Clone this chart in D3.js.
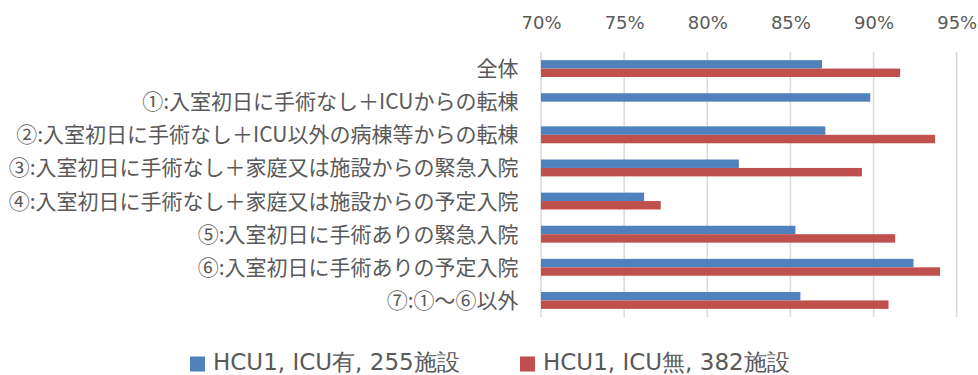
<!DOCTYPE html>
<html>
<head>
<meta charset="utf-8">
<script src="https://cdn.jsdelivr.net/npm/d3@7"></script>
<style>
  html, body { margin: 0; padding: 0; background: #fff; }
  svg { display: block; }
</style>
</head>
<body>
<svg id="chart" width="978" height="375"></svg>
<script>
// Categories (top to bottom)
const categories = [
  "全体",
  "①:入室初日に手術なし＋ICUからの転棟",
  "②:入室初日に手術なし＋ICU以外の病棟等からの転棟",
  "③:入室初日に手術なし＋家庭又は施設からの緊急入院",
  "④:入室初日に手術なし＋家庭又は施設からの予定入院",
  "⑤:入室初日に手術ありの緊急入院",
  "⑥:入室初日に手術ありの予定入院",
  "⑦:①～⑥以外"
];

// Series names
const seriesNames = ["HCU1, ICU有, 255施設", "HCU1, ICU無, 382施設"];

// Series values (ratio); null = no bar
const withICU    = [0.869, 0.898, 0.871, 0.819, 0.762, 0.853, 0.924, 0.856];
const withoutICU = [0.916, null,  0.937, 0.893, 0.772, 0.913, 0.940, 0.909];

// Axis ticks
const tickValues = [0.70, 0.75, 0.80, 0.85, 0.90, 0.95];

const colors = ["#4F81BD", "#C0504D"];
const textColor = "#595959";

const svg = d3.select("#chart");

const x = d3.scaleLinear().domain([0.70, 0.95]).range([541, 956.7]);
const y = d3.scaleBand().domain(categories).range([52, 317])
  .paddingInner(0.49).paddingOuter(0.245);
const sub = d3.scaleBand().domain([0, 1]).range([0, y.bandwidth()]);

// Vertical gridlines
svg.append("g").selectAll("line").data(tickValues).join("line")
  .attr("x1", d => x(d)).attr("x2", d => x(d))
  .attr("y1", 52).attr("y2", 317)
  .attr("stroke", "#d9d9d9").attr("stroke-width", 1.5);

// Top axis labels
const axis = d3.axisTop(x).tickValues(tickValues)
  .tickFormat(d3.format(".0%")).tickSize(0).tickPadding(0);
const ag = svg.append("g").attr("transform", "translate(0,28.5)").call(axis);
ag.select(".domain").remove();
ag.selectAll("text")
  .attr("fill", textColor)
  .style("font-family", "'DejaVu Sans', Verdana, sans-serif")
  .style("font-size", "18px");

// Bars
const series = [withICU, withoutICU];
series.forEach((vals, si) => {
  svg.append("g").selectAll("rect")
    .data(categories.map((c, i) => ({ c, v: vals[i] })).filter(d => d.v != null))
    .join("rect")
    .attr("x", x(0.70))
    .attr("y", d => y(d.c) + sub(si))
    .attr("width", d => x(d.v) - x(0.70))
    .attr("height", sub.bandwidth())
    .attr("fill", colors[si]);
});

// Category labels
svg.append("g").selectAll("text").data(categories).join("text")
  .attr("x", 518.5)
  .attr("y", d => y(d) + y.bandwidth() / 2)
  .attr("dy", "0.36em")
  .attr("text-anchor", "end")
  .attr("fill", textColor)
  .style("font-family", "'Noto Sans CJK JP', sans-serif")
  .style("font-size", "21px")
  .text(d => d);

// Legend
const legendX = [190, 520];
const lg = svg.append("g");
seriesNames.forEach((name, i) => {
  lg.append("rect")
    .attr("x", legendX[i]).attr("y", 356.5)
    .attr("width", 15).attr("height", 15)
    .attr("fill", colors[i]);
  lg.append("text")
    .attr("x", legendX[i] + 23).attr("y", 369.5)
    .attr("fill", textColor)
    .style("font-family", "'DejaVu Sans', Verdana, sans-serif")
    .style("font-size", "23px")
    .text(name);
});
</script>
</body>
</html>
